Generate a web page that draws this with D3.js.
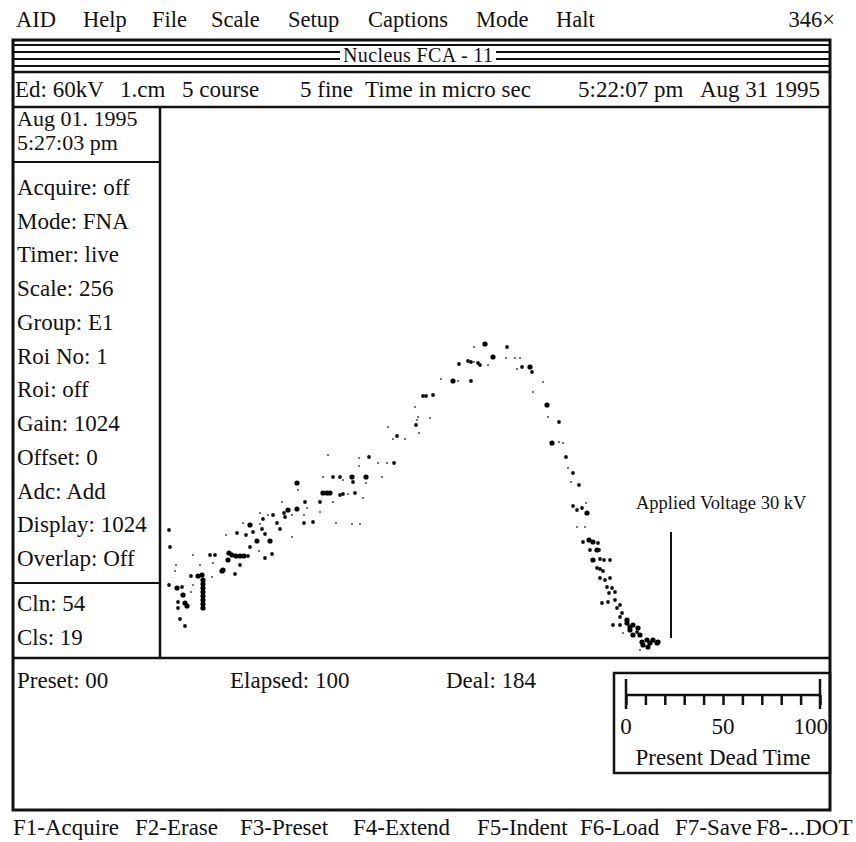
<!DOCTYPE html>
<html>
<head>
<meta charset="utf-8">
<script src="https://cdn.jsdelivr.net/npm/d3@7"></script>
<style>
body{margin:0;background:#fff;}
svg{display:block;}
</style>
</head>
<body>
<div id="chart"></div>
<script>
// screen captions
const menuLabels = ["AID", "Help", "File", "Scale", "Setup", "Captions", "Mode", "Halt"];
const zoomLabel = "346×";
const titleLabel = "Nucleus FCA - 11";
const headerLabels = ["Ed: 60kV", "1.cm", "5 course", "5 fine", "Time in micro sec", "5:22:07 pm", "Aug 31 1995"];
const startStamp = ["Aug 01. 1995", "5:27:03 pm"];
const statusLabels = ["Acquire: off", "Mode: FNA", "Timer: live", "Scale: 256", "Group: E1", "Roi No: 1",
	"Roi: off", "Gain: 1024", "Offset: 0", "Adc: Add", "Display: 1024", "Overlap: Off"];
const cursorLabels = ["Cln: 54", "Cls: 19"];
const timerLabels = ["Preset: 00", "Elapsed: 100", "Deal: 184"];
const keyLabels = ["F1-Acquire", "F2-Erase", "F3-Preset", "F4-Extend", "F5-Indent", "F6-Load", "F7-Save", "F8-...DOT"];

// spectrum: time (micro sec), counts, hits per dot
const timeUs = [0.9,1.0,0.9,1.6,1.5,1.7,2.2,2.3,1.8,2.5,2.7,1.8,2.0,2.5,3.1,3.3,3.3,3.1,3.8,4.2,
	4.3,4.3,4.3,4.3,4.3,4.3,4.3,4.3,4.0,5.0,5.5,5.2,5.3,6.2,6.3,6.8,6.9,7.2,7.6,8.0,
	8.4,8.8,6.6,8.0,7.5,7.7,8.3,8.6,9.0,9.3,9.0,9.7,9.9,10.0,10.0,10.3,10.2,10.5,10.5,11.0,
	10.8,11.2,11.3,11.7,12.0,12.2,12.4,12.5,12.8,13.2,13.2,13.7,13.7,13.8,14.4,14.4,14.5,14.7,15.3,16.0,
	16.0,16.3,16.7,17.0,17.3,16.8,16.3,17.3,17.6,18.0,18.3,18.0,18.3,18.8,19.2,19.3,19.5,19.2,20.0,20.3,
	19.9,19.9,20.9,20.6,20.6,21.8,22.2,22.7,23.4,22.8,23.3,23.7,24.5,25.5,25.8,25.7,25.6,25.9,26.3,26.6,
	27.0,27.3,28.1,29.3,29.8,29.9,30.8,31.1,31.1,31.4,31.4,31.8,32.0,32.5,32.8,33.3,34.7,34.6,35.5,35.7,
	36.0,36.2,37.0,37.2,37.3,38.3,38.7,38.8,39.2,39.9,39.9,40.3,40.6,40.8,41.1,41.3,41.9,41.3,41.7,42.2,
	42.6,42.7,41.7,42.5,42.3,42.9,43.3,43.8,43.0,43.7,43.9,43.3,44.0,44.4,45.0,43.7,44.0,44.3,44.0,44.5,
	45.0,44.7,45.2,44.9,45.5,44.2,44.8,45.5,45.7,46.0,46.0,46.2,45.3,46.0,46.3,46.7,46.7,47.0,47.3,47.8,
	47.0,47.7,47.3,48.0,48.2,48.7,49.0,49.3,49.7,49.8,48.8,48.3,48.0];
const counts = [64,55.5,36.5,46.5,43.5,35,35.5,31.5,28,27.5,26,25,19.5,16,33,36.5,51.5,41,41,41.5,
	39,37,35,33,31,29,27,25,46.5,51.5,51.5,40.5,47.5,43.5,44,49,52.5,51.5,51,51,
	51,51,61.5,46.5,42,62.5,67.5,61.5,66.5,63,55.5,58.5,53.5,72.5,67,69.5,64.5,62,50,58.5,
	71.5,52,71.5,67.5,64.5,78,72.5,70.5,74,71.5,60.5,74.5,87.5,84,71.5,67.5,78,75,68,78,
	73,82.5,82.5,82.5,78,101.5,90.5,90.5,67.5,90.5,89,81.5,82,82,90.5,88,82.5,67,67,80,
	100,96,100.5,90.5,87.5,97.5,90.5,97.5,97.5,115.5,109.5,111,109.5,125.5,120.5,119,116.5,112.5,131,131,
	120,131.5,139.5,138.5,138.5,147,148.5,148,138.5,148,155.5,147.5,146.5,157,146.5,150.5,155.5,150,150,144.5,
	150,145.5,145.5,143,133,138,126.5,120.5,107.5,118,108,107.5,100.5,95,88,92.5,86.5,76,74,75,
	77.5,72.5,65.5,65.5,58,59,58,57.5,54,54,54,49,49.5,49,49,45,44.5,43.5,40,39,
	40,35.5,35,32.5,33,27.5,28,29,25,26.5,20.5,22.5,16.5,16.5,12.5,19,17.5,15.5,16.5,15,
	14,13,11.5,11.5,8,9,7.5,9,7.5,8,5.5,6.5,4];
const hits = [2,2,2,1,1,3,2,3,2,3,3,2,2,2,1,1,1,2,3,3,
	3,3,3,3,3,3,3,3,1,2,2,1,1,3,3,3,3,3,3,3,
	3,2,1,2,2,2,1,2,3,2,2,3,1,1,1,2,2,2,2,3,
	1,2,2,2,2,1,2,2,3,1,1,3,3,1,1,2,2,1,2,2,
	1,3,3,3,1,1,1,2,1,2,1,2,2,1,3,2,2,1,1,1,
	1,1,2,3,1,1,1,1,2,1,1,2,1,1,1,1,2,1,2,2,
	1,2,1,3,1,2,2,2,2,1,1,2,2,3,1,3,2,1,1,1,
	1,2,3,2,1,1,3,1,3,2,1,1,2,1,1,2,2,2,2,2,
	1,3,1,1,2,3,3,2,2,3,2,3,2,2,2,2,2,2,2,2,
	2,2,2,2,2,2,2,2,2,2,2,2,2,2,1,3,3,3,3,3,
	3,2,3,3,3,3,3,3,3,3,3,3,1];

// applied voltage marker
const appliedTime = 51.1;
const appliedCounts = [10, 63];
const appliedLabel = "Applied Voltage 30 kV";

// dead time gauge
const deadTicks = [0, 10, 20, 30, 40, 50, 60, 70, 80, 90, 100];
const deadLabels = [0, 50, 100];
const deadCaption = "Present Dead Time";

function drawScreen(divElement){
	let w = 856,
		h = 842,
		font = "'Liberation Serif', 'Times New Roman', serif",
		box = {left: 13, right: 830, top: 40, bottom: 810},
		rowTitle = 72,
		rowHeader = 107,
		panelRight = 160,
		plotBottom = 658,
		svgElem = divElement.append("svg").attr("width", w).attr("height", h);

	svgElem.style("font-family", font).style("fill", "#111");

	function hline(y, x1, x2, sw){
		svgElem.append("line").attr("x1", x1).attr("x2", x2).attr("y1", y).attr("y2", y)
			.style("stroke", "#111").style("stroke-width", sw);
	}
	function vline(x, y1, y2, sw){
		svgElem.append("line").attr("x1", x).attr("x2", x).attr("y1", y1).attr("y2", y2)
			.style("stroke", "#111").style("stroke-width", sw);
	}
	function label(txt, x, y, size, anchor){
		return svgElem.append("text").attr("x", x).attr("y", y)
			.attr("text-anchor", anchor || "start")
			.style("font-size", size + "px").text(txt);
	}

	// menu bar
	let menuX = [16, 83, 152, 211, 288, 368, 476, 556];
	menuLabels.forEach(function(m, mi){
		label(m, menuX[mi], 27, 22.5);
	});
	label(zoomLabel, 835, 27, 22.5, "end");

	// outer frame
	svgElem.append("rect").attr("x", box.left).attr("y", box.top)
		.attr("width", box.right - box.left).attr("height", box.bottom - box.top)
		.style("fill", "none").style("stroke", "#111").style("stroke-width", 3);

	// title bar stripes
	let titleEl = label(titleLabel, 418, 62, 20, "middle").attr("textLength", 150),
		tb = titleEl.node().getBBox();
	hline(45, box.left, box.right, 2);
	[52, 59].forEach(function(y){
		hline(y, box.left, tb.x - 3, 2.2);
		hline(y, tb.x + tb.width + 3, box.right, 2.2);
	});
	hline(66, box.left, box.right, 2.2);
	hline(rowTitle, box.left, box.right, 2.5);

	// header row
	let headerX = [15, 120, 182, 300, 365, 578, 700];
	headerLabels.forEach(function(hd, hi){
		label(hd, headerX[hi], 97, 23);
	});
	hline(rowHeader, box.left, box.right, 2.5);

	// left status panel
	vline(panelRight, rowHeader, plotBottom, 2.5);
	label(startStamp[0], 17, 126, 22);
	label(startStamp[1], 17, 150, 22);
	hline(162, box.left, panelRight, 2);
	let rowY = d3.scaleLinear().domain([0, statusLabels.length - 1]).range([195, 566]);
	statusLabels.forEach(function(s, si){
		label(s, 17, rowY(si), 23);
	});
	hline(583, box.left, panelRight, 2);
	label(cursorLabels[0], 17, 611, 23);
	label(cursorLabels[1], 17, 645, 23);
	hline(plotBottom, box.left, box.right, 2.5);

	// spectrum plot
	let scaleX = d3.scaleLinear().domain([0, 66.9]).range([panelRight, box.right - 1]),
		scaleY = d3.scaleLinear().domain([0, 256]).range([plotBottom, 146]),
		dotR = d3.scaleOrdinal().domain([1, 2, 3]).range([1.1, 1.9, 2.6]),
		dotFill = d3.scaleOrdinal().domain([1, 2, 3]).range(["#555", "#111", "#000"]),
		dots = timeUs.map(function(t, ti){
			return {t: t, n: counts[ti], k: hits[ti]};
		});

	svgElem.append("g").selectAll("circle").data(dots).enter().append("circle")
		.attr("cx", function(d){ return scaleX(d.t); })
		.attr("cy", function(d){ return scaleY(d.n); })
		.attr("r", function(d){ return dotR(d.k); })
		.style("fill", function(d){ return dotFill(d.k); });

	vline(scaleX(appliedTime), scaleY(appliedCounts[0]), scaleY(appliedCounts[1]), 2);
	label(appliedLabel, 636, 509, 18.5);

	// bottom timer panel
	let timerX = [17, 230, 446];
	timerLabels.forEach(function(tl, ti){
		label(tl, timerX[ti], 688, 23);
	});

	// dead time gauge
	svgElem.append("rect").attr("x", 614).attr("y", 673)
		.attr("width", box.right - 614).attr("height", 100)
		.style("fill", "none").style("stroke", "#111").style("stroke-width", 2.5);
	let scaleDead = d3.scaleLinear().domain([0, 100]).range([626, 820]),
		gaugeY = 695,
		gaugeG = svgElem.append("g").attr("transform", "translate(0," + gaugeY + ")");
	gaugeG.call(d3.axisBottom(scaleDead).tickValues(deadTicks).tickSize(10).tickFormat("").tickSizeOuter(0));
	gaugeG.select(".domain").attr("d", "M" + scaleDead(0) + ",0H" + scaleDead(100))
		.style("stroke", "#111").style("stroke-width", 2.5);
	gaugeG.selectAll(".tick line").style("stroke", "#111").style("stroke-width", 2.5);
	[0, 100].forEach(function(v){
		vline(scaleDead(v), gaugeY - 16, gaugeY + 14, 2.5);
	});
	deadLabels.forEach(function(v, vi){
		let anchor = "middle", dx = 0;
		if(vi === deadLabels.length - 1){
			anchor = "end";
			dx = 8;
		}
		label(String(v), scaleDead(v) + dx, 734, 23, anchor);
	});
	label(deadCaption, 723, 765, 23, "middle");

	// function keys
	let keyX = [13, 135, 240, 353, 477, 580, 675, 756];
	keyLabels.forEach(function(k, ki){
		label(k, keyX[ki], 835, 23);
	});
}

drawScreen(d3.select("#chart"));
</script>
</body>
</html>
